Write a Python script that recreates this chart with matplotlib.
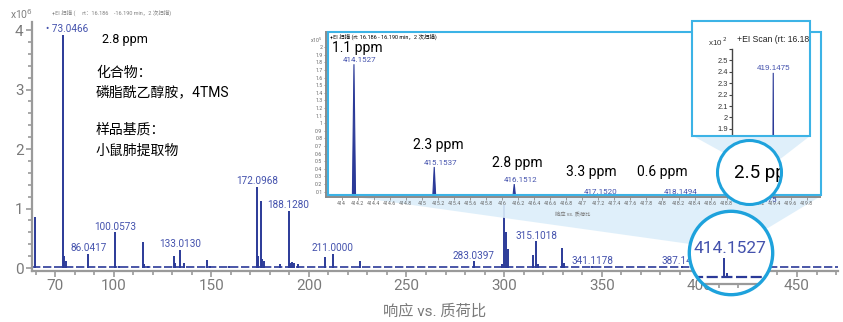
import numpy as np
import matplotlib.pyplot as plt
from matplotlib.patches import Circle, Rectangle, Polygon
from matplotlib.transforms import Bbox, TransformedBbox
from matplotlib.ticker import MultipleLocator, FuncFormatter

plt.rcParams['font.family'] = ['Roboto', 'Noto Sans CJK SC', 'DejaVu Sans']

# ---- main spectrum (intensity x1e6)
main_mz = [59.6, 73.9, 74.6, 75.6, 87.0, 100.7, 103.0, 114.9, 115.6, 117.5, 130.8, 131.6,
           134.0, 136.0, 148.0, 149.2, 159.0, 173.3, 174.0, 175.3, 176.0, 177.0, 185.0,
           189.6, 190.5, 191.3, 192.5, 194.5, 208.2, 212.2, 226.0, 284.5, 299.1, 300.0,
           301.2, 302.2, 314.8, 316.4, 317.4, 329.6, 330.6, 345.2, 391.3, 412.5]
main_int = [0.86, 3.92, 0.20, 0.12, 0.24, 0.60, 0.04, 0.44, 0.06, 0.03, 0.20, 0.08,
            0.30, 0.09, 0.13, 0.04, 0.03, 1.37, 0.20, 1.12, 0.15, 0.12, 0.06,
            0.96, 0.09, 0.10, 0.08, 0.06, 0.18, 0.24, 0.12, 0.11, 0.06, 1.06,
            0.61, 0.32, 0.22, 0.45, 0.06, 0.33, 0.08, 0.03, 0.03, 0.12]
lab_mz = [73.9, 87.0, 100.7, 134.0, 173.3, 189.6, 212.2, 284.5, 316.4, 345.2, 391.3]
lab_int = [3.92, 0.24, 0.60, 0.30, 1.37, 0.96, 0.24, 0.11, 0.45, 0.03, 0.03]
lab_txt = ['• 73.0466', '86.0417', '100.0573', '133.0130', '172.0968', '188.1280',
           '211.0000', '283.0397', '315.1018', '341.1178', '387.1416']
main_xticks = [70, 100, 150, 200, 250, 300, 350, 400, 450]

# magnifier circle content
mag_mz = [412.5, 414.4]
mag_int = [0.245, 0.06]

# ---- inset: 414-420 (intensity x1e5)
ins_mz = [414.1527, 415.1537, 416.1512, 417.1520, 418.1494, 419.1475]
ins_int = [1.776, 0.425, 0.20, 0.05, 0.04, 0.035]
ins_txt = ['414.1527', '415.1537', '416.1512', '417.1520', '418.1494', '419.1475']
ppm_txt = ['1.1 ppm', '2.3 ppm', '2.8 ppm', '3.3 ppm', '0.6 ppm']
ppm_xy = [(414.20, 1.99), (415.20, 0.714), (416.19, 0.477), (417.11, 0.359), (418.0, 0.359)]

# ---- small inset: 419.1475 (intensity x1e2)
z_mz = [419.1475]
z_int = [2.39]

BLUE = '#2b3a98'
LBLUE = '#4452ad'
CYAN = '#1ea2dc'
FRAME = '#3cb3e6'
FILL = '#dceefa'
GRAY = '#808080'

W, H = 843, 322


def fr(x0, y0, x1, y1):
    return [x0 / W, 1 - y1 / H, (x1 - x0) / W, (y1 - y0) / H]


fig = plt.figure(figsize=(W / 100, H / 100), dpi=100)
inch = fig.dpi_scale_trans

# ================= main axes
ax = fig.add_axes(fr(32, 21.7, 838, 271))
ax.vlines(main_mz, 0, main_int, color=BLUE, lw=1.4, zorder=3)
ax.axhline(0.012, color=BLUE, lw=1.2, ls=(0, (5, 1.6)), zorder=2)
ax.set_xlim(58.2, 471)
ax.set_ylim(-0.05, 4.14)
for s in ['top', 'right']:
    ax.spines[s].set_visible(False)
for s in ['left', 'bottom']:
    ax.spines[s].set_color('#9a9a9a')
    ax.spines[s].set_linewidth(1.6)
ax.set_xticks(main_xticks)
ax.xaxis.set_minor_locator(MultipleLocator(10))
ax.yaxis.set_major_locator(MultipleLocator(1))
ax.yaxis.set_minor_locator(MultipleLocator(0.2))
ax.tick_params(which='both', colors='#9a9a9a', labelcolor='#7a7a7a', labelsize=11, width=1.2)
ax.tick_params(which='major', length=4, pad=2)
ax.tick_params(which='minor', length=3)
ax.set_xlabel('响应 vs. 质荷比', fontsize=11, color='#7a7a7a', labelpad=8)
for i, (m, h, t) in enumerate(zip(lab_mz, lab_int, lab_txt)):
    dx = 3.5 if i == 0 else 0
    ax.annotate(t, (m, h), xytext=(dx, 0.5), textcoords='offset points', ha='center',
                va='bottom', fontsize=7.2, color=LBLUE, zorder=4)

fig.text(10 / W, 1 - 14 / H, r'x10$^{6}$', fontsize=7.5, color=GRAY, va='center')
fig.text(52 / W, 1 - 12.7 / H, '+EI 扫描 (     rt：16.186    -16.190 min，2 次扫描)',
         fontsize=4, color=GRAY, va='center')
fig.text(102 / W, 1 - 40 / H, '2.8 ppm', fontsize=9, va='center')
fig.text(96 / W, 1 - 73 / H, '化合物：', fontsize=10, va='center')
fig.text(96 / W, 1 - 92 / H, '磷脂酰乙醇胺，4TMS', fontsize=10, va='center')
fig.text(96 / W, 1 - 130 / H, '样品基质：', fontsize=10, va='center')
fig.text(96 / W, 1 - 151 / H, '小鼠肺提取物', fontsize=10, va='center')

# ================= inset 1
ia = fig.add_axes(fr(326, 32, 820, 197), zorder=2)
ia.patch.set_facecolor('white')
for m, h in zip(ins_mz, ins_int):
    ia.fill([m - 0.02, m, m + 0.02], [0, h, 0], color=BLUE, lw=0.8)
ia.set_xlim(413.804, 419.964)
ia.set_ylim(0.03, 2.2)
for s in ['top', 'right']:
    ia.spines[s].set_visible(False)
for s in ['left', 'bottom']:
    ia.spines[s].set_color('#8a8a8a')
    ia.spines[s].set_linewidth(1.4)
fmt = FuncFormatter(lambda v, _: f'{v:.1f}'.rstrip('0').rstrip('.'))
ia.set_xticks(np.arange(414, 419.81, 0.2))
ia.set_yticks(np.arange(0.1, 2.01, 0.1))
ia.xaxis.set_major_formatter(fmt)
ia.yaxis.set_major_formatter(fmt)
ia.tick_params(colors='#8a8a8a', labelcolor='#666666', labelsize=3.8, length=1.8, width=0.6, pad=0.8)
ia.set_xlabel('响应 vs. 质荷比', fontsize=3.8, color='#777777', labelpad=5)
for i, (m, h, t) in enumerate(zip(ins_mz, ins_int, ins_txt)):
    if i < 5:
        ia.annotate(t, (m, h), xytext=(4.3, 0.6), textcoords='offset points', ha='center',
                    va='bottom', fontsize=5.8, color=LBLUE)
    else:
        ia.annotate(t, (m, -0.01), xytext=(4.3, 0), textcoords='offset points', ha='center',
                    va='center', fontsize=5.8, color=LBLUE, annotation_clip=False)
for t, (x, y) in zip(ppm_txt, ppm_xy):
    ia.text(x, y, t, fontsize=10, ha='center', va='center')
fig.text(330 / W, 1 - 37 / H, '+EI 扫描 (rt: 16.186 - 16.190 min，2 次扫描)', fontsize=4,
         va='center', zorder=3)
fig.text(310 / W, 1 - 40 / H, r'x10$^{5}$', fontsize=3.8, color='#666666', va='center', zorder=3)
fig.patches.append(Rectangle((328 / W, 1 - 195 / H), 493 / W, 163 / H, transform=fig.transFigure,
                             fill=False, ec=FRAME, lw=1.5, zorder=3))

# light-blue zoom wedges
fig.patches.append(Polygon([(362 / W, 1 - 198 / H), (821 / W, 1 - 196 / H), (768 / W, 1 - 228 / H),
                            (690 / W, 1 - 244 / H)], closed=True, transform=fig.transFigure,
                           fc=FILL, ec='none', alpha=0.9, zorder=1.5))
fig.patches.append(Polygon([(693 / W, 1 - 136 / H), (810 / W, 1 - 136 / H), (779 / W, 1 - 160 / H),
                            (722 / W, 1 - 152 / H)], closed=True, transform=fig.transFigure,
                           fc=FILL, ec='none', alpha=0.9, zorder=6))

# ================= inset 2
fig.patches.append(Rectangle((692 / W, 1 - 136 / H), 118 / W, 115.3 / H, transform=fig.transFigure,
                             fc='white', ec='none', zorder=4.5))
za = fig.add_axes(fr(731.7, 48.5, 810, 136), zorder=5)
za.patch.set_visible(False)
for m, h in zip(z_mz, z_int):
    za.fill([m - 0.004, m, m + 0.004], [0, h, 0], color=BLUE, lw=0.8)
za.set_xlim(419.0, 419.278)
za.set_ylim(1.838, 2.603)
for s in ['top', 'right', 'bottom']:
    za.spines[s].set_visible(False)
za.spines['left'].set_color('#444444')
za.spines['left'].set_linewidth(1.0)
za.set_xticks([])
za.set_yticks(np.arange(1.9, 2.61, 0.1))
za.set_yticklabels(['1.9', '2', '2.1', '2.2', '2.3', '2.4', '2.5', ''], family='Liberation Sans')
za.tick_params(colors='#444444', labelcolor='#333333', labelsize=5.4, length=2, width=0.8, pad=0.6)
for m, h, t in zip(z_mz, z_int, ['419.1475']):
    za.annotate(t, (m, h), xytext=(0, 0.8), textcoords='offset points', ha='center',
                va='bottom', fontsize=5.8, color=LBLUE, family='Liberation Sans')
clip2 = TransformedBbox(Bbox([[6.92, 0], [8.10, 3.22]]), inch)
fig.text(708 / W, 1 - 41.5 / H, r'x10$^{\ 2}$', fontsize=5.8, color='#333333', va='center', zorder=6,
         family='Liberation Sans')
t2 = fig.text(736.7 / W, 1 - 39.3 / H, '+EI Scan (rt: 16.186 - 16.190 min)', fontsize=6.2,
              color='#222222', va='center', zorder=6, family='Liberation Sans')
t2.set_clip_box(clip2)
t2.set_clip_on(True)
fig.patches.append(Rectangle((692 / W, 1 - 136 / H), 118 / W, 115.3 / H, transform=fig.transFigure,
                             fill=False, ec=FRAME, lw=1.5, zorder=6.5))

# ================= circle 2 (2.5 ppm)
c2x, c2y, c2r = 749.5, 172.5, 32
fig.patches.append(Circle((c2x / 100, (H - c2y) / 100), c2r / 100, transform=inch,
                          fc='white', ec='none', zorder=7))
t3 = fig.text(734 / W, 1 - 173 / H, '2.5 ppm', fontsize=13.5, va='center', zorder=7.5)
t3.set_clip_box(TransformedBbox(Bbox([[7.0, 0], [7.80, 3.22]]), inch))
t3.set_clip_on(True)
fig.patches.append(Circle((c2x / 100, (H - c2y) / 100), c2r / 100, transform=inch,
                          fill=False, ec=CYAN, lw=2.2, zorder=8))

# ================= circle 1 (magnifier on 414.1527)
c1x, c1y, c1r = 731, 253, 41.7
c1 = Circle((c1x / 100, (H - c1y) / 100), c1r / 100, transform=inch, fc='white', ec='none', zorder=7)
fig.patches.append(c1)
ma = fig.add_axes(fr(32, 200, 838, 284.3), zorder=7.5)
ma.patch.set_visible(False)
ma.vlines(mag_mz, 0, mag_int, color=BLUE, lw=1.4)
ma.axhline(0, color=BLUE, lw=1.6, ls=(0, (5, 1.6)))
ma.set_xlim(58.2, 471)
ma.set_ylim(-0.09, 0.99)
for s in ['top', 'right', 'left']:
    ma.spines[s].set_visible(False)
ma.spines['bottom'].set_color('#9a9a9a')
ma.spines['bottom'].set_linewidth(1.6)
ma.set_xticks(main_xticks)
ma.set_xticklabels([])
ma.xaxis.set_minor_locator(MultipleLocator(10))
ma.set_yticks([])
ma.tick_params(which='both', colors='#9a9a9a', width=1.2)
ma.tick_params(which='major', length=4)
ma.tick_params(which='minor', length=3)
ma.annotate('414.1527', (mag_mz[0], mag_int[0]), xytext=(4.5, 1.5), textcoords='offset points',
            ha='center', va='bottom', fontsize=12.5, color=LBLUE)
for art in ma.lines + ma.collections + [ma.spines['bottom']]:
    art.set_clip_path(c1)
for tk in ma.xaxis.get_major_ticks() + ma.xaxis.get_minor_ticks():
    tk.tick1line.set_clip_path(c1)
fig.patches.append(Circle((c1x / 100, (H - c1y) / 100), c1r / 100, transform=inch,
                          fill=False, ec=CYAN, lw=2.4, zorder=8))

fig.savefig('out.png', dpi=100)
